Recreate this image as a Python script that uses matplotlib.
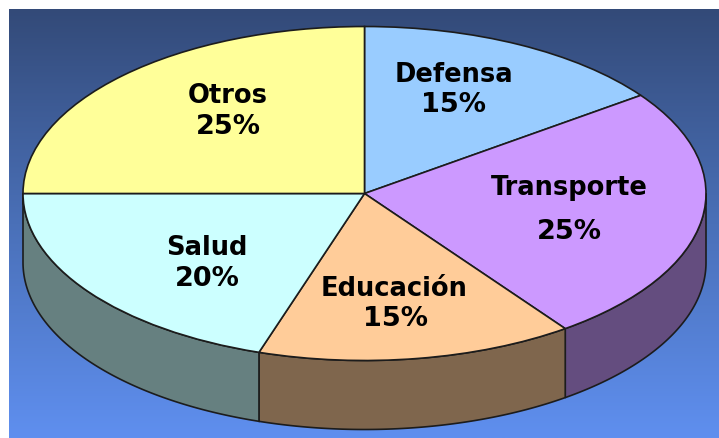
import numpy as np
import matplotlib
matplotlib.use('Agg')
import matplotlib.pyplot as plt

names=['Defensa','Transporte','Educación','Salud','Otros']
shares=[15,25,15,20,25]
top_colors=['#99ccff','#cc99ff','#ffcc99','#ccffff','#ffff99']
side_colors=['#5c7a99','#644d7f','#7f664d','#668080','#80804d']
name_pos=[(454,75),(569,188),(394,289),(207,248),(228,96)]
pct_pos=[(454,105),(569,232),(395,319),(207,279),(228,127)]

# picture geometry, in pixels
W,H=719,439
cx,cy=364.5,194.5
rx,ry=341.5,167
depth=69

fig=plt.figure(figsize=(W/100,H/100),dpi=100)
ax=fig.add_axes([0,0,1,1])

# background gradient
grad=np.linspace(0,1,256).reshape(-1,1)
cmap=matplotlib.colors.LinearSegmentedColormap.from_list('bg',['#334a78','#4a70b8','#5f8fef'])

ax.pie(shares,colors=top_colors,startangle=90,counterclock=False,
       wedgeprops=dict(edgecolor='#1c1c1c',linewidth=1.2,zorder=3))
ax.set_aspect('auto')
ax.set_frame_on(False)
for w in ax.patches:
    # pie gives a circle, squash it to the tilted ellipse
    w.set_transform(matplotlib.transforms.Affine2D().scale(rx,-ry).translate(cx,cy)+ax.transData)

ax.imshow(grad,extent=(9,W,H,10),cmap=cmap,aspect='auto',zorder=0)
ax.set_xlim(0,W)
ax.set_ylim(H,0)
ax.set_xticks([])
ax.set_yticks([])

# side walls of the slices on the front half
edges=np.cumsum([0]+shares)*3.6
for i in range(len(shares)):
    a0,a1=max(edges[i],90),min(edges[i+1],270)
    if a1<=a0:
        continue
    t=np.radians(np.linspace(a0,a1,120))
    x=cx+rx*np.sin(t)
    y=cy-ry*np.cos(t)
    ax.fill(np.r_[x,x[::-1]],np.r_[y,y[::-1]+depth],facecolor=side_colors[i],
            edgecolor='#1c1c1c',lw=1.2,zorder=2)

for name,share,p,q in zip(names,shares,name_pos,pct_pos):
    ax.text(p[0],p[1],name,ha='center',va='center',fontsize=18.5,fontweight='bold',color='k',
            family='DejaVu Sans',zorder=5)
    ax.text(q[0],q[1],'%d%%'%share,ha='center',va='center',fontsize=19.5,fontweight='bold',color='k',
            family='DejaVu Sans',zorder=5)

fig.savefig('out.png',dpi=100)
